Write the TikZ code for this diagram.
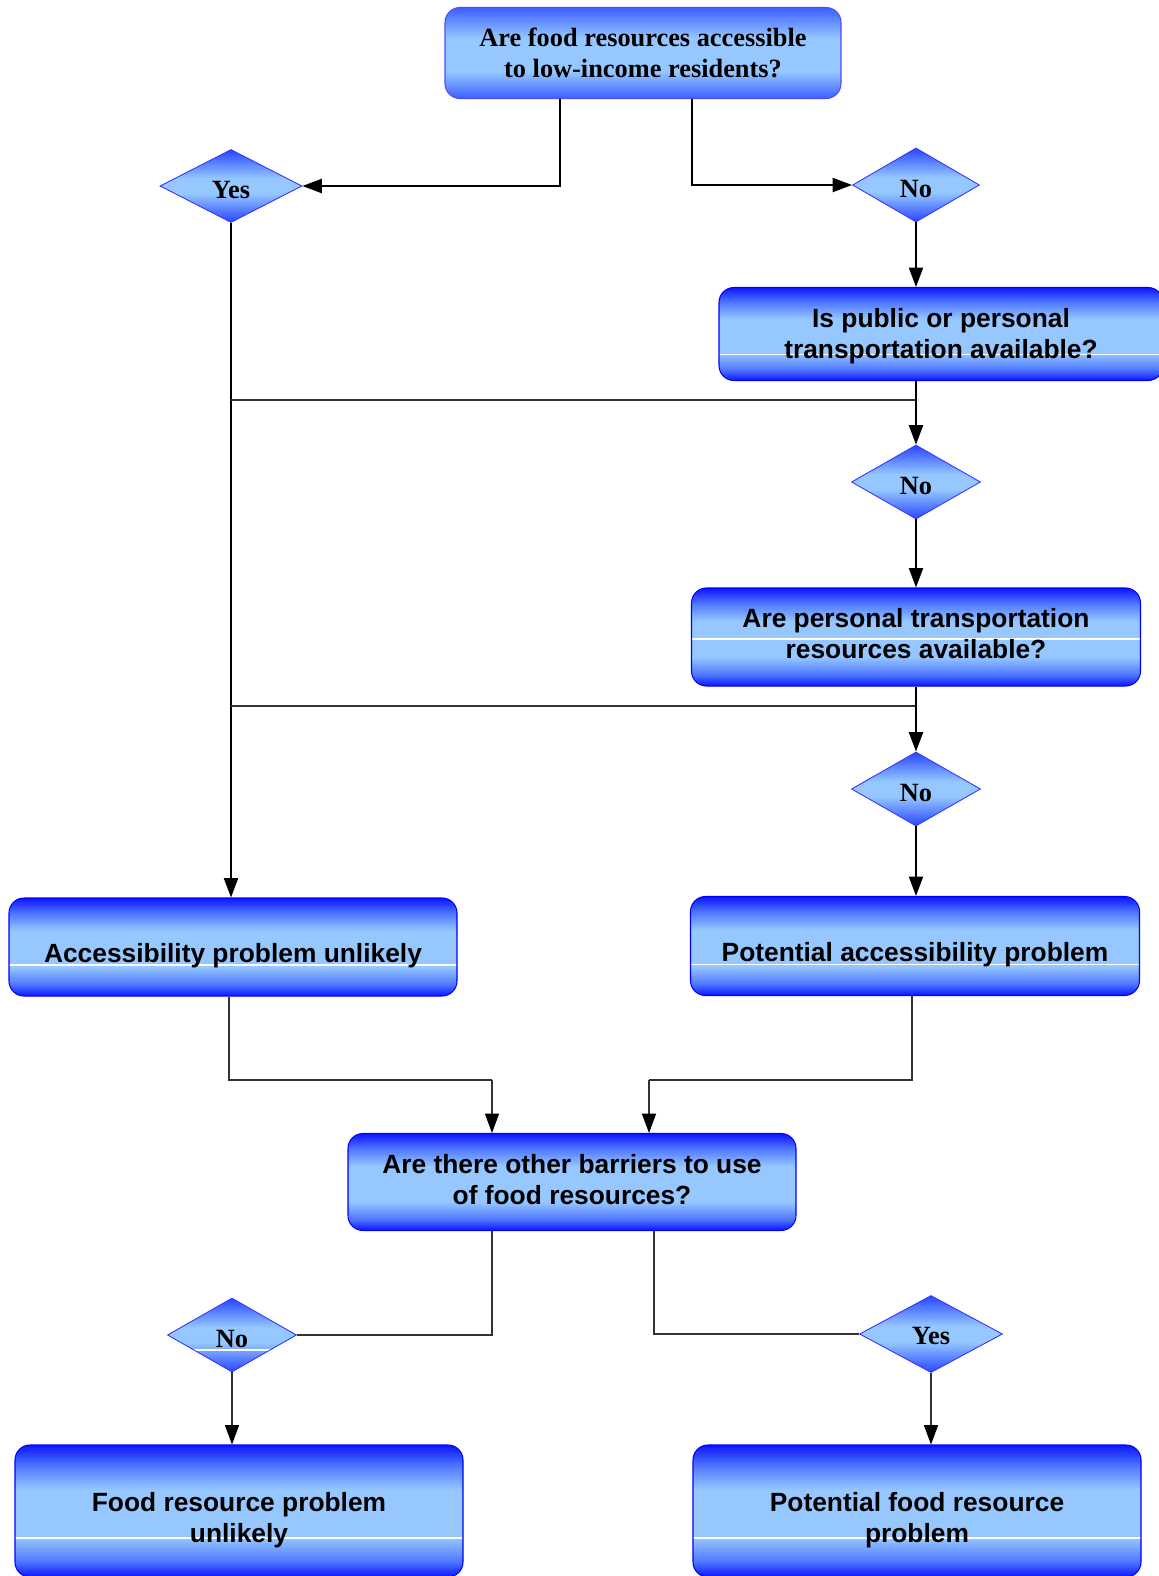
\documentclass[tikz,border=0pt]{standalone}
\usepackage{fontspec}
\setmainfont{Liberation Serif}
\newfontfamily\arialfont{Liberation Sans}
\usetikzlibrary{shapes.geometric,arrows.meta,positioning}
\newlength\pxu
\setlength\pxu{0.02cm}
\definecolor{bdark}{RGB}{12,22,255}
\definecolor{bmid}{RGB}{80,120,255}
\definecolor{blight}{RGB}{150,200,255}
\definecolor{tmid}{RGB}{60,95,255}
\definecolor{dtip}{RGB}{40,70,255}
\pgfdeclareverticalshading{boxshade}{100bp}{color(0bp)=(bdark); color(25bp)=(bdark);
  color(31bp)=(bmid); color(40bp)=(blight); color(58bp)=(blight); color(67bp)=(bmid);
  color(75bp)=(bdark); color(100bp)=(bdark)}
\pgfdeclareverticalshading{topshade}{100bp}{color(0bp)=(tmid); color(25bp)=(tmid);
  color(40bp)=(blight); color(58bp)=(blight); color(75bp)=(tmid); color(100bp)=(tmid)}
\pgfdeclareverticalshading{diashade}{100bp}{color(0bp)=(dtip); color(25bp)=(dtip);
  color(45bp)=(blight); color(55bp)=(blight); color(75bp)=(dtip); color(100bp)=(dtip)}
\begin{document}
\begin{tikzpicture}[x=0.02cm, y=0.02cm,
    box/.style={draw=blue, line width=0.6pt, rounded corners=15\pxu, shading=boxshade,
      align=center, inner sep=0, font=\arialfont\bfseries\fontsize{15}{17.5}\selectfont},
    topbox/.style={box, shading=topshade, draw=blue!70, font=\bfseries\fontsize{15}{17.5}\selectfont},
    choice/.style={diamond, draw=blue!80, line width=0.5pt, shading=diashade, inner sep=0,
      text height=14.1pt, text depth=0pt, font=\bfseries\fontsize{15}{17.5}\selectfont},
    gloss/.style={path picture={\draw[white, line width=0.8pt]
      ([yshift=#1\pxu]path picture bounding box.south west) --
      ([yshift=#1\pxu]path picture bounding box.south east);}},
    arr/.style={-{Triangle[length=11pt, width=8pt, color=black]}, line width=1pt},
    link/.style={line width=0.6pt, black!80},
    size/.style args={#1x#2}{minimum width=#1\pxu, minimum height=#2\pxu}]
  \useasboundingbox (0,0) rectangle (1159,-1576);

  % questions and answers
  \node[topbox, size=396x91] (top) at (643,-53) {Are food resources accessible\\to low-income residents?};
  \node[choice, size=142x73] (yes1) at (231,-186) {Yes};
  \node[choice, size=127x74] (no1) at (916,-185) {No};
  \node[box, size=444x93, gloss=26, text depth=0.85pt] (pub) at (941,-334) {Is public or personal\\transportation available?};
  \node[choice, size=129x74] (no2) at (916,-482) {No};
  \node[box, size=449x98, gloss=47, text depth=4pt] (per) at (916,-637) {Are personal transportation\\resources available?};
  \node[choice, size=129x74] (no3) at (916,-789) {No};
  \node[box, size=448x98, gloss=31, text height=17.9pt, text depth=0pt] (unl) at (233,-947) {Accessibility problem unlikely};
  \node[box, size=449x99, gloss=31, text height=17.9pt, text depth=0pt] (pac) at (915,-946) {Potential accessibility problem};
  \node[box, size=448x97, text depth=2.9pt] (oth) at (572,-1182) {Are there other barriers to use\\of food resources?};
  \node[choice, size=129x74, gloss=22] (no4) at (232,-1335) {No};
  \node[choice, size=143x77, text height=12.4pt] (yes2) at (931,-1334) {Yes};
  \node[box, size=448x132, gloss=39, text height=35.3pt, text depth=0pt] (fru) at (239,-1511) {Food resource problem\\unlikely};
  \node[box, size=448x132, gloss=39, text height=35.3pt, text depth=0pt] (pfr) at (917,-1511) {Potential food resource\\problem};

  \coordinate (j1) at (916,-400);
  \coordinate (j2) at (915,-706);

  % connectors
  \draw[arr] ([xshift=-83\pxu]top.south) |- (yes1.east);
  \draw[arr] ([xshift=49\pxu]top.south) |- (no1.west);
  \draw[arr] (no1.south) -- (no1.south |- pub.north);
  \draw[arr] (yes1.south) -- (yes1.south |- unl.north);
  \draw[arr] (no2.north |- pub.south) -- (no2.north);
  \draw[link] (yes1.south |- j1) -- (j1);
  \draw[arr] (no2.south) -- (no2.south |- per.north);
  \draw[arr] (no3.north |- per.south) -- (no3.north);
  \draw[link] (yes1.south |- j2) -- (j2);
  \draw[arr] (no3.south) -- (no3.south |- pac.north);
  \draw[link] ([xshift=-4\pxu]unl.south) |- ([xshift=-80\pxu, yshift=53\pxu]oth.north);
  \draw[arr, link] ([xshift=-80\pxu, yshift=53\pxu]oth.north) -- ([xshift=-80\pxu]oth.north);
  \draw[link] ([xshift=-3\pxu]pac.south) |- ([xshift=77\pxu, yshift=53\pxu]oth.north);
  \draw[arr, link] ([xshift=77\pxu, yshift=53\pxu]oth.north) -- ([xshift=77\pxu]oth.north);
  \draw[link] ([xshift=-80\pxu]oth.south) |- (no4.east);
  \draw[link] ([xshift=82\pxu]oth.south) |- (yes2.west);
  \draw[arr, link] (no4.south) -- (no4.south |- fru.north);
  \draw[arr, link] (yes2.south) -- (yes2.south |- pfr.north);
\end{tikzpicture}
\end{document}
